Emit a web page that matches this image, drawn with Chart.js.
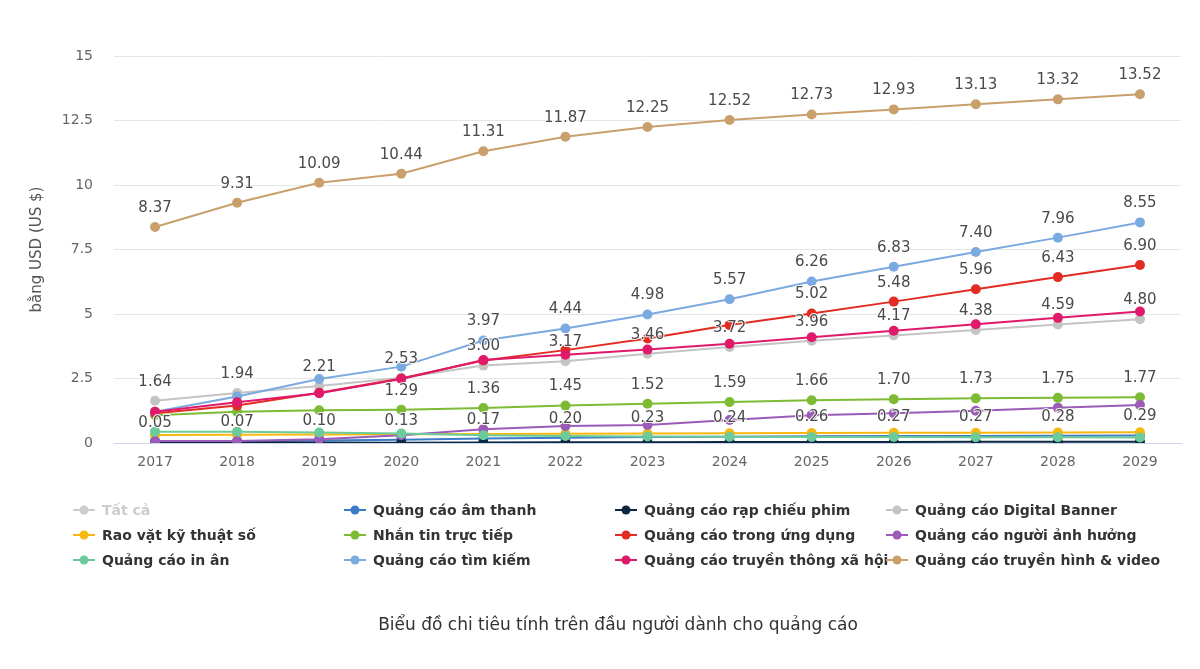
<!DOCTYPE html>
<html>
<head>
<meta charset="utf-8">
<script src="https://cdn.jsdelivr.net/npm/chart.js@4.4.0/dist/chart.umd.min.js"></script>
<style>
html,body{margin:0;padding:0;background:#ffffff;}
#wrap{width:1200px;height:669px;position:relative;}
</style>
</head>
<body>
<div id="wrap"><canvas id="c" width="1200" height="669"></canvas></div>
<script>
// ---------- data ----------
const years = ['2017','2018','2019','2020','2021','2022','2023','2024','2025','2026','2027','2028','2029'];
const yTicks = [0, 2.5, 5, 7.5, 10, 12.5, 15];
const yAxisTitle = 'bằng USD (US $)';
const caption = 'Biểu đồ chi tiêu tính trên đầu người dành cho quảng cáo';

const seriesNames = [
  'Tất cả',
  'Quảng cáo âm thanh',
  'Quảng cáo rạp chiếu phim',
  'Quảng cáo Digital Banner',
  'Rao vặt kỹ thuật số',
  'Nhắn tin trực tiếp',
  'Quảng cáo trong ứng dụng',
  'Quảng cáo người ảnh hưởng',
  'Quảng cáo in ân',
  'Quảng cáo tìm kiếm',
  'Quảng cáo truyền thông xã hội',
  'Quảng cáo truyền hình & video'
];
const seriesColors = ['#c8c8c8','#3b7bc8','#0c2740','#c4c4c4','#f8b711','#7dbb35','#e22b22','#9b5cb8','#6ccb9b','#7baae0','#e0196b','#c9a06c'];

const total       = [];   // hidden series ("Tất cả"), not visible in the picture
const audio       = [0.05, 0.07, 0.10, 0.13, 0.17, 0.20, 0.23, 0.24, 0.26, 0.27, 0.27, 0.28, 0.29];
const cinema      = [0.03, 0.03, 0.02, 0.01, 0.02, 0.03, 0.03, 0.04, 0.04, 0.04, 0.05, 0.05, 0.05];
const banner      = [1.64, 1.94, 2.21, 2.53, 3.00, 3.17, 3.46, 3.72, 3.96, 4.17, 4.38, 4.59, 4.80];
const classifieds = [0.31, 0.32, 0.33, 0.34, 0.35, 0.36, 0.37, 0.38, 0.39, 0.40, 0.40, 0.41, 0.42];
const messaging   = [1.08, 1.21, 1.27, 1.29, 1.36, 1.45, 1.52, 1.59, 1.66, 1.70, 1.73, 1.75, 1.77];
const inApp       = [1.15, 1.45, 1.95, 2.50, 3.20, 3.60, 4.05, 4.57, 5.02, 5.48, 5.96, 6.43, 6.90];
const influencer  = [0.08, 0.08, 0.15, 0.30, 0.53, 0.66, 0.70, 0.89, 1.08, 1.15, 1.25, 1.37, 1.47];
const print       = [0.44, 0.44, 0.41, 0.37, 0.30, 0.27, 0.25, 0.24, 0.23, 0.23, 0.22, 0.22, 0.21];
const search      = [1.21, 1.80, 2.48, 2.96, 3.97, 4.44, 4.98, 5.57, 6.26, 6.83, 7.40, 7.96, 8.55];
const social      = [1.21, 1.58, 1.93, 2.48, 3.22, 3.42, 3.62, 3.85, 4.10, 4.35, 4.60, 4.85, 5.10];
const tvVideo     = [8.37, 9.31, 10.09, 10.44, 11.31, 11.87, 12.25, 12.52, 12.73, 12.93, 13.13, 13.32, 13.52];

const seriesValues = [total, audio, cinema, banner, classifieds, messaging, inApp, influencer, print, search, social, tvVideo];
const hiddenSeries = ['Tất cả'];
// order in which data labels claim space (overlapping ones are hidden)
const labelPriority = [
  'Quảng cáo truyền hình & video','Quảng cáo Digital Banner','Quảng cáo âm thanh','Nhắn tin trực tiếp',
  'Quảng cáo tìm kiếm','Quảng cáo trong ứng dụng','Quảng cáo truyền thông xã hội','Quảng cáo người ảnh hưởng',
  'Rao vặt kỹ thuật số','Quảng cáo in ân','Quảng cáo rạp chiếu phim'
];

// ---------- styling ----------
const FONT = '"DejaVu Sans", Verdana, sans-serif';

const datasets = seriesNames.map((name, i) => ({
  label: name,
  data: seriesValues[i],
  borderColor: seriesColors[i],
  backgroundColor: seriesColors[i],
  pointBackgroundColor: seriesColors[i],
  pointBorderColor: seriesColors[i],
  pointBorderWidth: 0,
  pointRadius: 5,
  pointHoverRadius: 5,
  borderWidth: 2,
  tension: 0,
  fill: false,
  hidden: hiddenSeries.includes(name),
  order: seriesNames.length - i
}));

const dataLabelPlugin = {
  id: 'dataLabels',
  afterDatasetsDraw(chart) {
    const ctx = chart.ctx;
    ctx.save();
    ctx.font = '15px ' + FONT;
    ctx.textAlign = 'center';
    ctx.textBaseline = 'middle';
    const placed = [];
    const boxH = 24.6;
    labelPriority.forEach(name => {
      const di = chart.data.datasets.findIndex(d => d.label === name);
      if (di < 0 || !chart.isDatasetVisible(di)) return;
      const meta = chart.getDatasetMeta(di);
      meta.data.forEach((pt, j) => {
        const v = chart.data.datasets[di].data[j];
        if (v == null) return;
        const txt = v.toFixed(2);
        const w = ctx.measureText(txt).width + 6;
        const cx = pt.x, cy = pt.y - 19;
        const box = {l: cx - w/2, r: cx + w/2, t: cy - boxH/2, b: cy + boxH/2};
        const hit = placed.some(p => box.l < p.r && box.r > p.l && box.t < p.b && box.b > p.t);
        if (hit) return;
        placed.push(box);
        ctx.lineWidth = 2;
        ctx.strokeStyle = 'rgba(255,255,255,0.9)';
        ctx.lineJoin = 'round';
        ctx.strokeText(txt, cx, cy);
        ctx.fillStyle = '#4a4a4a';
        ctx.fillText(txt, cx, cy);
      });
    });
    ctx.restore();
  }
};

const legendPlugin = {
  id: 'gridLegend',
  afterDraw(chart) {
    const ctx = chart.ctx;
    ctx.save();
    const startX = 73, colW = 271, startY = 510, rowH = 25;
    chart.data.datasets.forEach((ds, i) => {
      const col = i % 4, row = Math.floor(i / 4);
      const x = startX + col * colW, y = startY + row * rowH;
      const hidden = !chart.isDatasetVisible(i);
      const c = hidden ? '#cccccc' : ds.borderColor;
      ctx.strokeStyle = c;
      ctx.lineWidth = 2;
      ctx.beginPath();
      ctx.moveTo(x, y);
      ctx.lineTo(x + 22, y);
      ctx.stroke();
      ctx.fillStyle = c;
      ctx.beginPath();
      ctx.arc(x + 11, y, 4.5, 0, Math.PI * 2);
      ctx.fill();
      ctx.font = 'bold 14px ' + FONT;
      ctx.textAlign = 'left';
      ctx.textBaseline = 'middle';
      ctx.fillStyle = hidden ? '#cccccc' : '#333333';
      ctx.fillText(ds.label, x + 29, y + 1);
    });
    ctx.font = '17px ' + FONT;
    ctx.textAlign = 'center';
    ctx.textBaseline = 'middle';
    ctx.fillStyle = '#333333';
    ctx.fillText(caption, 618, 626);
    ctx.restore();
  }
};

new Chart(document.getElementById('c'), {
  type: 'line',
  data: { labels: years, datasets },
  plugins: [dataLabelPlugin, legendPlugin],
  options: {
    responsive: false,
    animation: false,
    devicePixelRatio: 1,
    layout: { padding: { left: 0, right: 19, top: 56, bottom: 186 } },
    plugins: { legend: { display: false }, tooltip: { enabled: false }, title: { display: false } },
    scales: {
      x: {
        type: 'category',
        offset: true,
        grid: { display: false, drawTicks: false },
        border: { display: true, color: '#ccd6eb', width: 1 },
        ticks: { color: '#666666', font: { family: FONT, size: 14 }, padding: 11, maxRotation: 0, autoSkip: false },
        afterFit: s => { s.height = 40; }
      },
      y: {
        min: 0, max: 15,
        afterBuildTicks: s => { s.ticks = yTicks.map(v => ({ value: v })); },
        grid: { color: ctx => (ctx.tick && ctx.tick.value === 0) ? '#ccd6eb' : '#e6e6e6', lineWidth: 1, drawTicks: false },
        border: { display: false },
        ticks: { color: '#666666', font: { family: FONT, size: 14 }, padding: 21 },
        title: { display: true, text: yAxisTitle, color: '#555555', font: { family: FONT, size: 15 }, padding: { top: 28, bottom: 0 } },
        afterFit: s => { s.width = 114; }
      }
    }
  }
});
</script>
</body>
</html>
